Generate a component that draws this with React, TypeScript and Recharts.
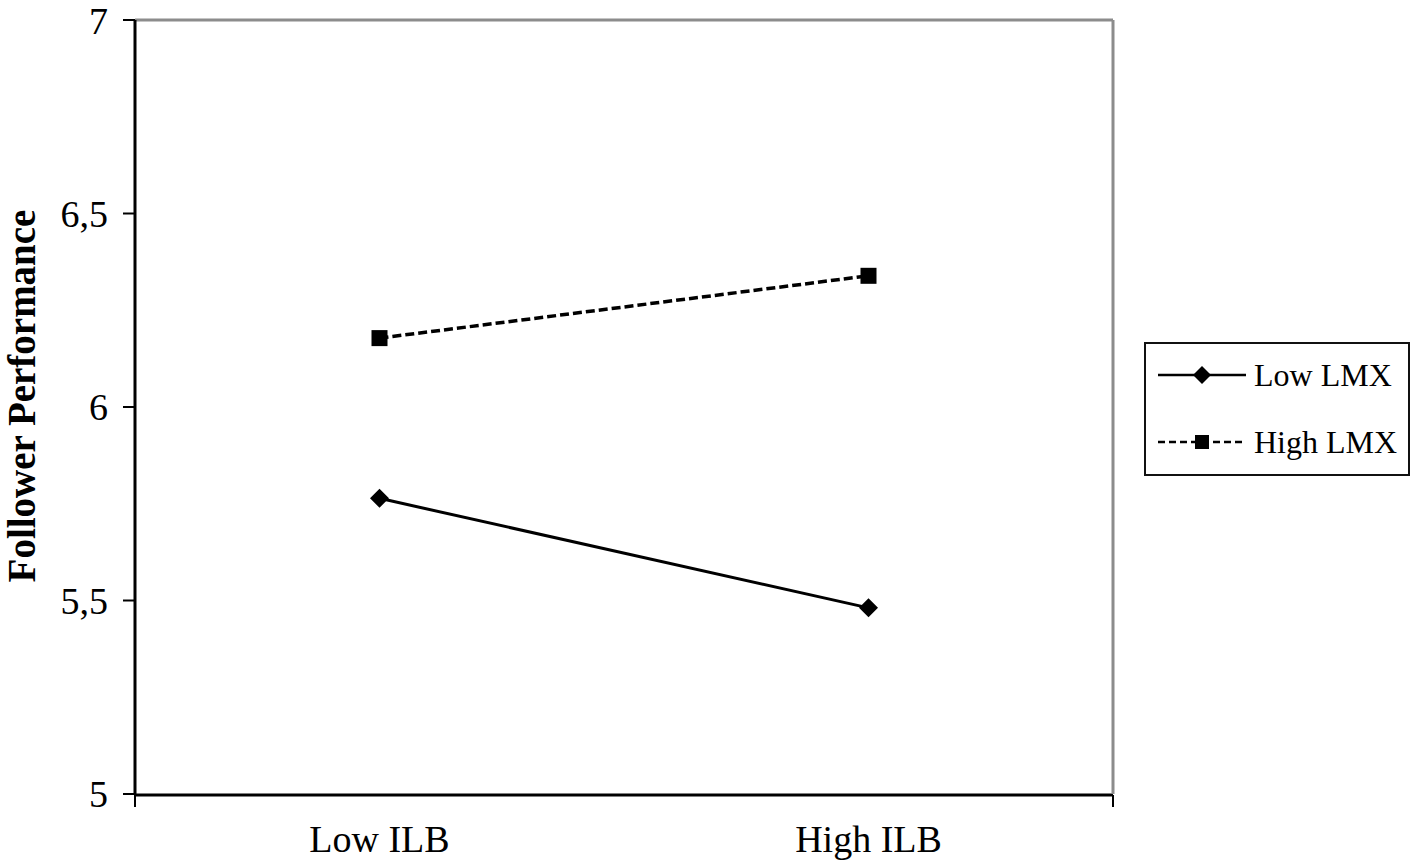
import {
  LineChart, Line, XAxis, YAxis, Legend, ReferenceLine, Label,
} from 'recharts';

const CATEGORIES = ['Low ILB', 'High ILB'];
const LOW_LMX = [5.764, 5.481];
const HIGH_LMX = [6.178, 6.339];
const Y_TICKS = [5, 5.5, 6, 6.5, 7];
const EDGE_TICKS = [0, 1, 2];

const data = CATEGORIES.map((ilb, i) => ({ ilb, low: LOW_LMX[i], high: HIGH_LMX[i] }));

const FONT = '"Liberation Serif", "Times New Roman", serif';

const SERIES = [
  { key: 'low', name: 'Low LMX', dash: undefined, marker: 'diamond' },
  { key: 'high', name: 'High LMX', dash: '9 4', marker: 'square' },
];

const Marker = ({ cx, cy, kind, r }: { cx: number; cy: number; kind: string; r: number }) => {
  if (kind === 'square') {
    return <rect x={cx - r} y={cy - r} width={r * 2} height={r * 2} fill="#000" />;
  }
  return <path d={`M${cx} ${cy - r}L${cx + r} ${cy}L${cx} ${cy + r}L${cx - r} ${cy}Z`} fill="#000" />;
};

const LegendBox = () => (
  <div
    style={{
      position: 'relative', boxSizing: 'border-box', width: 266, height: 134,
      border: '2px solid #111', background: '#fff', fontFamily: FONT,
    }}
  >
    {SERIES.map((s, i) => (
      <div
        key={s.key}
        style={{
          position: 'absolute', left: 12, top: 11 + i * 67, height: 40,
          display: 'flex', alignItems: 'center',
        }}
      >
        <svg width={88} height={24} style={{ display: 'block' }}>
          <line x1={0} x2={88} y1={12} y2={12} stroke="#000" strokeWidth={2.5} strokeDasharray={s.dash ? '7 4' : undefined} />
          <Marker cx={44} cy={12} kind={s.marker} r={s.marker === 'square' ? 7 : 9} />
        </svg>
        <span style={{ marginLeft: 8, fontSize: 32, color: '#000', lineHeight: '40px' }}>{s.name}</span>
      </div>
    ))}
  </div>
);

const AxisTitle = ({ viewBox }: any) => {
  const x = viewBox.x + 21;
  const y = viewBox.y + viewBox.height / 2 - 11;
  return (
    <text
      x={x} y={y} transform={`rotate(-90, ${x}, ${y})`} textAnchor="middle" dominantBaseline="central"
      fontFamily={FONT} fontWeight="bold" fontSize={39} fill="#000"
    >
      Follower Performance
    </text>
  );
};

export default function App() {
  return (
    <div style={{ position: 'absolute', left: 0, top: 0, width: 1418, height: 868, background: '#fff' }}>
      <LineChart width={1418} height={868} data={data} margin={{ top: 20, right: 304, left: 0, bottom: 0 }}>
        {/* category labels: a thin axis, the boundary ticks come from the axis below it */}
        <XAxis
          dataKey="ilb" scale="band" height={1} axisLine={false} tickLine={false} tickSize={12} tickMargin={19}
          tick={{ fontFamily: FONT, fontSize: 38, fill: '#000' }}
        />
        <XAxis
          xAxisId="edge" type="number" domain={[0, 2]} ticks={EDGE_TICKS} height={73}
          tickFormatter={() => ''} tickSize={12} tickLine={{ stroke: '#000', strokeWidth: 2 }}
          axisLine={{ stroke: '#000', strokeWidth: 3 }}
        />
        <YAxis
          width={135} domain={[5, 7]} ticks={Y_TICKS} interval={0} tickSize={12} tickMargin={15}
          tickFormatter={(v: number) => String(v).replace('.', ',')}
          tick={{ fontFamily: FONT, fontSize: 38, fill: '#000' }}
          tickLine={{ stroke: '#000', strokeWidth: 2 }}
          axisLine={{ stroke: '#000', strokeWidth: 3 }}
        >
          <Label content={<AxisTitle />} />
        </YAxis>
        <YAxis
          yAxisId="right" orientation="right" width={1} domain={[5, 7]} tick={false} tickLine={false}
          axisLine={{ stroke: '#8c8c8c', strokeWidth: 3 }}
        />
        <ReferenceLine y={7} stroke="#8c8c8c" strokeWidth={3} />
        <Legend
          layout="vertical" align="center" verticalAlign="middle"
          wrapperStyle={{ left: 1144, top: 342, width: 266, height: 134 }}
          content={() => <LegendBox />}
        />
        {SERIES.map(s => (
          <Line
            key={s.key}
            dataKey={s.key}
            name={s.name}
            stroke="#000"
            strokeWidth={s.dash ? 3.5 : 3}
            strokeDasharray={s.dash}
            isAnimationActive={false}
            dot={(p: any) => (
              <Marker key={`${s.key}-${p.index}`} cx={p.cx} cy={p.cy} kind={s.marker} r={s.marker === 'square' ? 8 : 9.5} />
            )}
            activeDot={false}
          />
        ))}
      </LineChart>
    </div>
  );
}
